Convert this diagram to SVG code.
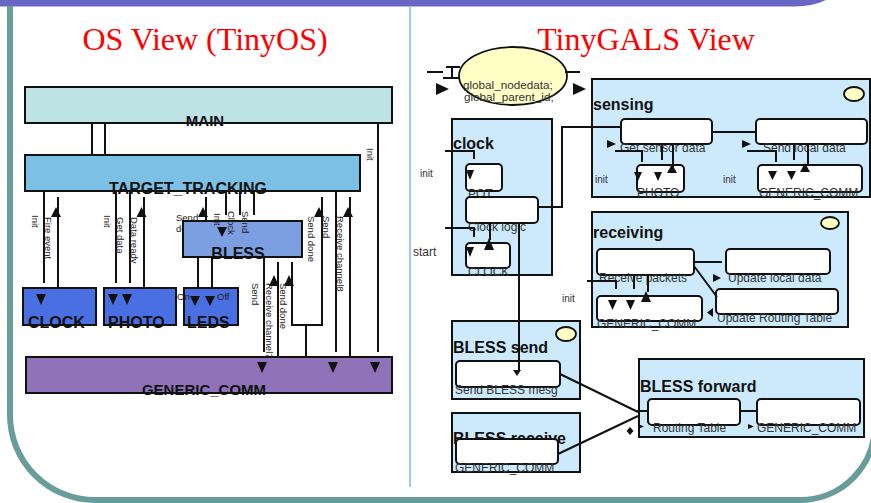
<svg xmlns="http://www.w3.org/2000/svg" width="871" height="503" viewBox="0 0 871 503">
<style>
text{font-family:"Liberation Sans",Arial,sans-serif}
.ttl{font-family:"Liberation Serif","Times New Roman",serif;font-size:32px;fill:#ff0000}
.bt{font-size:15px;font-weight:bold;fill:#111}
.bt2{font-size:16px;font-weight:bold;fill:#111}
.sm{font-size:9.5px;fill:#222}
.rs{font-size:12px;fill:#333}
.ri{font-size:10px;fill:#333}
.box{stroke:#111;stroke-width:2}
.ib{fill:#fff;stroke:#111;stroke-width:2}
.cont{fill:#cceafb;stroke:#111;stroke-width:2}
.ln{stroke:#111;stroke-width:2;fill:none}
.tri{fill:#111}
.oval{fill:#ffffc6;stroke:#111;stroke-width:1.8}
</style>
<rect x="0" y="0" width="871" height="503" fill="#fff"/>
<g id="frame">
<path d="M0,0 H826 Q812,6.5 795,6.5 H0 Z" fill="#6a66c6"/>
<path d="M10,6 V415 A85,85 0 0 0 95,500 H800 A75,75 0 0 0 875,425" fill="none" stroke="#689d9c" stroke-width="6"/>
<line x1="410" y1="6" x2="410" y2="487" stroke="#9cc9f5" stroke-width="2"/>
</g>
<text class="ttl" x="205" y="50" text-anchor="middle">OS View (TinyOS)</text>
<text class="ttl" x="646" y="50" text-anchor="middle">TinyGALS View</text>

<g id="os-connectors">
<path class="ln" d="M92,123 V155 M105,123 V155 M378,123 V352 M44,191 V283 M58,197 V288 M116,191 V283 M130,191 V283 M144,197 V288 M206,197 V221 M226,191 V215 M240,191 V215 M254,191 V215 M198,257 V288 M212,257 V288 M264,257 V352 M278,262 V357 M292,262 V325 H322 V197 M306,325 V357 M336,191 V352 M350,197 V357"/>
<path class="tri" d="M51,217 h10 l-5,-10z M136.5,217 h10 l-5,-10z M198,217 h10 l-5,-10z M314,217 h10 l-5,-10z M343,217 h10 l-5,-10z M269,286 h10 l-5,-11z M284,286 h10 l-5,-11z"/>
<path class="tri" d="M84.5,160 h9 l-4.5,9z M98,160 h9 l-4.5,9z"/>
<g class="sm">
<text x="64" y="164">Init</text>
<text x="112" y="164">Start</text>
<text x="176" y="221">Send</text>
<text x="176" y="232">done</text>
<text transform="translate(367,148) rotate(90)">Init</text>
<text transform="translate(32,215) rotate(90)">Init</text>
<text transform="translate(45,217) rotate(90)">Fire event</text>
<text transform="translate(104,215) rotate(90)">Init</text>
<text transform="translate(117,217) rotate(90)">Get data</text>
<text transform="translate(131,217) rotate(90)">Data ready</text>
<text transform="translate(308,216) rotate(90)">Send done</text>
<text transform="translate(323,216) rotate(90)">Send</text>
<text transform="translate(337,216) rotate(90)">Receive channel8</text>
<text transform="translate(252,283) rotate(90)">Send</text>
<text transform="translate(266,283) rotate(90)">Receive channel7</text>
<text transform="translate(280,283) rotate(90)">Send done</text>
</g>
</g>

<g id="main">
<rect class="box" x="25" y="87" width="367" height="36" fill="#bde3e4"/>
<text class="bt" x="205" y="126" text-anchor="middle">MAIN</text>
</g>
<g id="target-tracking">
<rect class="box" x="25" y="155" width="335" height="36" fill="#7cc0e6"/>
<text class="bt2" x="188" y="194" text-anchor="middle">TARGET_TRACKING</text>
</g>
<g id="bless">
<rect class="box" x="183" y="221" width="119" height="36" fill="#7b9fe0"/>
<text class="bt2" x="238" y="259" text-anchor="middle">BLESS</text>
<path class="tri" d="M217,227 h10 l-5,10z"/>
<text class="sm" transform="translate(214,213) rotate(90)">Init</text>
<text class="sm" transform="translate(228,211) rotate(90)">Clock</text>
<text class="sm" transform="translate(242,211) rotate(90)">Send</text>
</g>
<g id="clock">
<rect class="box" x="23" y="288" width="73" height="37" fill="#4a6fe3"/>
<path class="tri" d="M36,294 h10 l-5,11z"/>
<text class="bt2" x="28" y="328">CLOCK</text>
</g>
<g id="photo">
<rect class="box" x="104" y="288" width="72" height="37" fill="#4a6fe3"/>
<path class="tri" d="M108,294 h10 l-5,11z M122,294 h10 l-5,11z"/>
<text class="bt2" x="108" y="328">PHOTO</text>
</g>
<g id="leds">
<rect class="box" x="184" y="288" width="54" height="37" fill="#4a6fe3"/>
<path class="tri" d="M190,296 h10 l-5,10z M205,296 h10 l-5,10z"/>
<text class="sm" x="177" y="300">On</text>
<text class="sm" x="217" y="300">Off</text>
<text class="bt2" x="187" y="328">LEDS</text>
</g>
<g id="generic-comm">
<rect class="box" x="26" y="357" width="366" height="36" fill="#8f73b9"/>
<path class="tri" d="M257,362 h10 l-5,11z M328,362 h10 l-5,11z M370,362 h10 l-5,11z"/>
<text class="bt" x="204" y="395" text-anchor="middle">GENERIC_COMM</text>
</g>

<g id="globals">
<ellipse class="oval" cx="513" cy="76" rx="54" ry="29"/>
<text class="rs" x="463" y="89" style="font-size:11.7px">global_nodedata;</text>
<text class="rs" x="464" y="101" style="font-size:11.7px">global_parent_id;</text>
</g>

<g id="sensing">
<rect class="cont" x="592" y="79" width="278" height="118"/>
<ellipse class="oval" cx="854" cy="94" rx="10" ry="7"/>
<text class="bt2" x="593" y="110">sensing</text>
<rect class="ib" x="621" y="119" width="91" height="25" rx="4"/>
<text class="rs" x="620" y="152">Get sensor data</text>
<rect class="ib" x="637" y="165" width="47" height="27" rx="4"/>
<text class="rs" x="637" y="197">PHOTO</text>
<rect class="ib" x="756" y="119" width="111" height="25" rx="4"/>
<text class="rs" x="763" y="152">Send local data</text>
<rect class="ib" x="758" y="165" width="104" height="27" rx="4"/>
<text class="rs" x="759" y="197">GENERIC_COMM</text>
<text class="ri" x="595" y="183">init</text>
<text class="ri" x="723" y="183">init</text>
</g>

<g id="clock-module">
<rect class="cont" x="452" y="119" width="100" height="156"/>
<text class="bt2" x="453" y="149">clock</text>
<rect class="ib" x="466" y="164" width="36" height="27" rx="4"/>
<text class="rs" x="468" y="198">POT</text>
<rect class="ib" x="466" y="197" width="72" height="26" rx="4"/>
<text class="rs" x="468" y="231">Clock logic</text>
<rect class="ib" x="466" y="243" width="44" height="25" rx="4"/>
<text class="rs" x="468" y="276">CLOCK</text>
</g>
<text class="ri" x="420" y="177">init</text>
<text class="rs" x="413" y="256">start</text>

<g id="receiving">
<rect class="cont" x="592" y="212" width="256" height="115"/>
<ellipse class="oval" cx="830" cy="223" rx="9" ry="6"/>
<text class="bt2" x="593" y="238">receiving</text>
<rect class="ib" x="597" y="249" width="97" height="26" rx="4"/>
<text class="rs" x="599" y="282">Receive packets</text>
<rect class="ib" x="726" y="249" width="104" height="25" rx="4"/>
<text class="rs" x="728" y="282">Update local data</text>
<rect class="ib" x="716" y="289" width="122" height="25" rx="4"/>
<text class="rs" x="717" y="322">Update Routing Table</text>
<rect class="ib" x="597" y="296" width="105" height="25" rx="4"/>
<text class="rs" x="597" y="328">GENERIC_COMM</text>
</g>
<text class="ri" x="562" y="302">init</text>

<g id="bless-send">
<rect class="cont" x="452" y="321" width="128" height="78"/>
<ellipse class="oval" cx="566" cy="334" rx="10" ry="7"/>
<text class="bt2" x="453" y="353">BLESS send</text>
<rect class="ib" x="456" y="361" width="104" height="26" rx="4"/>
<text class="rs" x="455" y="394">Send BLESS mesg</text>
</g>

<g id="bless-receive">
<rect class="cont" x="452" y="413" width="128" height="59"/>
<text class="bt2" x="453" y="444">BLESS receive</text>
<rect class="ib" x="456" y="439" width="102" height="25" rx="4"/>
<text class="rs" x="455" y="472">GENERIC_COMM</text>
</g>

<g id="bless-forward">
<rect class="cont" x="639" y="359" width="225" height="78"/>
<text class="bt2" x="640" y="392">BLESS forward</text>
<rect class="ib" x="648" y="399" width="92" height="26" rx="4"/>
<text class="rs" x="653" y="432">Routing Table</text>
<rect class="ib" x="757" y="399" width="103" height="26" rx="4"/>
<text class="rs" x="757" y="432">GENERIC_COMM</text>
</g>

<g id="gals-connectors">
<path class="ln" d="M427,72 H443 M446,67 H460 M452,67 V78 M443,78 H460 M565,72 H580"/>
<path class="tri" d="M436,83 L449,89 L436,95Z M573,83 L586,89 L573,95Z"/>
<path class="ln" d="M538,207 H562 V127 H621 M712,132 H756"/>
<path class="ln" d="M615,151 H642 V162 M662,144 V160 M673,144 V168 M747,151 H776 V162 M794,144 V160 M808,144 V165"/>
<path class="tri" d="M607,140 L616,144 L607,148Z M742,140 L751,144 L742,148Z M634,172 h8 l-4,9z M654,172 h8 l-4,9z M667,173 h10 l-5,-9z M768,171 h9 l-4.5,9z M787,171 h9 l-4.5,9z M800,172 h10 l-5,-9z"/>
<path class="ln" d="M445,151 H474 V159 M445,228 H474 V237 M490,223 V240 M519,223 V370"/>
<path class="tri" d="M466,170 h8 l-4,10z M466,247 h8 l-4,10z M484,250 h10 l-5,-12z M513,370 h8 l-4,6z"/>
<path class="ln" d="M694,262 H722 M694,266 L717,297 M587,281 H616 V289 M634,275 V289 M648,275 V292"/>
<path class="tri" d="M713,274 L721,278 L713,282Z M713,308 L707,312.5 L713,317Z M608,300 h9 l-4.5,10z M626,300 h9 l-4.5,10z M641,302 h10 l-5,-11z"/>
<path class="ln" d="M560,374 L638,412 M558,454 L638,416 M637,411 H648 M740,411 H757"/>
<path class="tri" d="M638,424 L644,426.5 L638,429Z M748,424 L754,426.5 L748,429Z M630,427 L633.5,431 L630,435 L626.5,431Z"/>
</g>
</svg>
